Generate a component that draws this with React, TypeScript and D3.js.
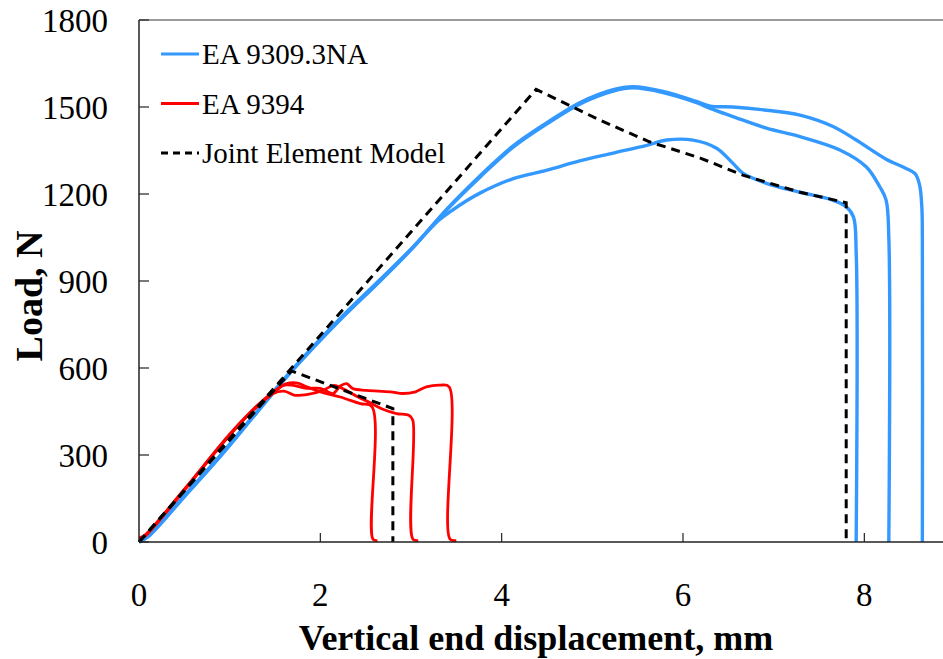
import React from 'react';
import * as d3 from 'd3';

// tamanho da figura
const width = 943;
const height = 659;
const margin = { left: 139, top: 20, right: -12, bottom: 117 };

// ticks dos eixos
const xTicks = [0, 2, 4, 6, 8];
const yTicks = [0, 300, 600, 900, 1200, 1500, 1800];

// EA 9309.3NA - três ensaios [deslocamento mm, carga N]
const blueA = [[0, 0], [0.1, 22], [0.5, 160], [0.9, 300], [1.3, 450], [1.7, 598], [2.2, 765], [2.66, 905], [3.02, 1016], [3.3, 1108], [3.45, 1143], [3.6, 1174], [3.76, 1203], [4.12, 1252], [4.5, 1282], [4.86, 1314], [5.23, 1341], [5.6, 1368], [5.82, 1386], [6.11, 1386], [6.37, 1358], [6.55, 1306], [6.66, 1272], [6.92, 1237], [7.29, 1206], [7.65, 1179], [7.8, 1156], [7.88, 1121], [7.91, 1000], [7.91, 0]];
const blueB = [[0, 0], [0.1, 20], [0.5, 158], [0.9, 298], [1.3, 448], [1.7, 596], [2.2, 762], [2.66, 902], [3.02, 1016], [3.39, 1144], [3.76, 1258], [4.12, 1360], [4.5, 1442], [4.86, 1510], [5.23, 1555], [5.45, 1566], [5.78, 1550], [6.15, 1515], [6.3, 1495], [6.55, 1467], [6.92, 1427], [7.29, 1398], [7.73, 1352], [8.02, 1294], [8.17, 1225], [8.24, 1179], [8.27, 1050], [8.27, 0]];
const blueC = [[0, 0], [0.1, 18], [0.5, 156], [0.9, 296], [1.3, 446], [1.7, 594], [2.2, 760], [2.66, 900], [3.02, 1014], [3.39, 1146], [3.76, 1262], [4.12, 1364], [4.5, 1446], [4.86, 1515], [5.23, 1560], [5.45, 1570], [5.78, 1554], [6.15, 1519], [6.3, 1503], [6.55, 1500], [6.92, 1489], [7.29, 1472], [7.66, 1432], [7.91, 1386], [8.24, 1320], [8.45, 1290], [8.56, 1270], [8.61, 1230], [8.635, 1150], [8.64, 1050], [8.64, 0]];

// EA 9394 - três ensaios
const redA = [[0, 15], [0.05, 20], [0.5, 182], [1.0, 372], [1.3, 470], [1.5, 522], [1.62, 545], [1.75, 548], [1.85, 535], [2.03, 515], [2.22, 500], [2.44, 477], [2.57, 466], [2.58, 10], [2.63, 5]];
const redB = [[0, 10], [0.05, 16], [0.5, 178], [1.0, 368], [1.3, 466], [1.48, 512], [1.6, 520], [1.72, 506], [1.85, 508], [2.03, 523], [2.15, 540], [2.25, 528], [2.4, 503], [2.55, 480], [2.69, 458], [2.84, 443], [2.98, 436], [3.02, 420], [3.02, 10], [3.08, 5]];
const redC = [[0, 12], [0.05, 18], [0.5, 180], [1.0, 370], [1.3, 468], [1.5, 518], [1.59, 540], [1.7, 540], [1.85, 530], [2.0, 530], [2.14, 512], [2.22, 538], [2.29, 546], [2.36, 529], [2.51, 523], [2.77, 518], [2.91, 512], [3.05, 518], [3.17, 535], [3.32, 541], [3.42, 535], [3.43, 10], [3.5, 5]];

// Joint Element Model
const modelBlue = [[0, 0], [4.38, 1561], [5.08, 1455], [5.63, 1380], [6.19, 1324], [6.66, 1265], [7.29, 1206], [7.8, 1170], [7.8, 0]];
const modelRed = [[0, 0], [1.68, 590], [2.8, 460], [2.8, 0]];

const blue = '#3399FF';
const red = '#FF0000';

const legendItems = [
    { label: 'EA 9309.3NA', color: blue, dash: null },
    { label: 'EA 9394', color: red, dash: null },
    { label: 'Joint Element Model', color: '#000', dash: '7,5' },
];

const font = "'Liberation Serif', 'Times New Roman', Times, 'DejaVu Serif', serif";

export default function App() {
    const x = d3.scaleLinear().domain([0, 9]).range([margin.left, width - margin.right]);
    const y = d3.scaleLinear().domain([0, 1800]).range([height - margin.bottom, margin.top]);

    const testLine = d3.line<number[]>()
        .x(d => x(d[0]))
        .y(d => y(d[1]))
        .curve(d3.curveCatmullRom.alpha(0.5));

    const modelLine = d3.line<number[]>()
        .x(d => x(d[0]))
        .y(d => y(d[1]));

    const x0 = x(0);
    const y0 = y(0);
    const txt = { fontFamily: font, fill: '#000' };

    return (
        <svg width={width} height={height} style={{ position: 'absolute', left: 0, top: 0, background: '#fff' }}>
            {/* borda superior */}
            <line x1={x0} x2={width} y1={y(1800)} y2={y(1800)} stroke="#7a7a7a" strokeWidth={1.5} />

            {/* curvas de ensaio */}
            {[blueA, blueB, blueC].map((d, i) => (
                <path key={'b' + i} d={testLine(d) || ''} fill="none" stroke={blue} strokeWidth={3.4} strokeLinejoin="round" />
            ))}
            {[redA, redB, redC].map((d, i) => (
                <path key={'r' + i} d={testLine(d) || ''} fill="none" stroke={red} strokeWidth={2.8} strokeLinejoin="round" />
            ))}
            {[modelBlue, modelRed].map((d, i) => (
                <path key={'m' + i} d={modelLine(d) || ''} fill="none" stroke="#000" strokeWidth={3} strokeDasharray="9,6" />
            ))}

            {/* eixos */}
            <line x1={x0} x2={x0} y1={y(1800)} y2={y0} stroke="#222" strokeWidth={1.5} />
            <line x1={x0} x2={width} y1={y0} y2={y0} stroke="#222" strokeWidth={1.5} />

            {yTicks.map(t => (
                <g key={'yt' + t}>
                    <line x1={x0} x2={x0 + 10} y1={y(t)} y2={y(t)} stroke="#222" strokeWidth={1.2} />
                    <text x={108} y={y(t)} dy="0.35em" textAnchor="end" style={{ ...txt, fontSize: 33 }}>{t}</text>
                </g>
            ))}
            {xTicks.map(t => (
                <g key={'xt' + t}>
                    {t > 0 && <line x1={x(t)} x2={x(t)} y1={y0} y2={y0 - 9} stroke="#222" strokeWidth={1.2} />}
                    <text x={x(t)} y={606} textAnchor="middle" style={{ ...txt, fontSize: 33 }}>{t}</text>
                </g>
            ))}

            {/* títulos */}
            <text x={536} y={650} textAnchor="middle" style={{ ...txt, fontSize: 36, fontWeight: 'bold' }}>Vertical end displacement, mm</text>
            <text transform={`translate(42, 296) rotate(-90)`} textAnchor="middle" style={{ ...txt, fontSize: 38, fontWeight: 'bold' }}>Load, N</text>

            {/* legenda */}
            {legendItems.map((it, i) => (
                <g key={it.label} transform={`translate(161, ${54 + i * 49.5})`}>
                    <line x1={0} x2={38} y1={0} y2={0} stroke={it.color} strokeWidth={3} strokeDasharray={it.dash || undefined} />
                    <text x={41} y={0} dy="0.35em" style={{ ...txt, fontSize: 29 }}>{it.label}</text>
                </g>
            ))}
        </svg>
    );
}
